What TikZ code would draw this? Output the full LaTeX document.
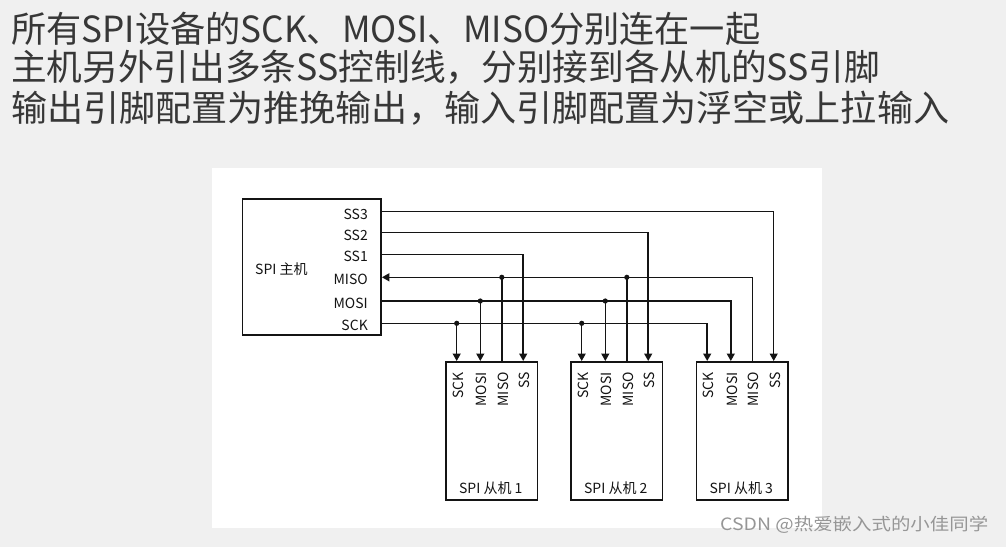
\documentclass[tikz,border=0pt]{standalone}
\usepackage{fontspec}
\usepackage{graphicx}
\setmainfont{Noto Sans CJK SC}
\usetikzlibrary{arrows.meta}
\definecolor{bg}{RGB}{240,240,240}
\definecolor{ink}{RGB}{20,20,20}
\definecolor{wm}{RGB}{150,150,150}
\begin{document}
\begin{tikzpicture}[x=1pt,y=-1pt,
  box/.style={draw=ink, line width=1.6pt, inner sep=0pt},
  wire/.style={draw=ink, line width=1.45pt},
  arr/.style={wire, -{Triangle[width=8pt,length=7.5pt]}},
  pinlbl/.style={font=\fontsize{14}{14}\selectfont, text=ink, inner sep=0pt},
  jdot/.style={circle, fill=ink, inner sep=0pt, minimum size=5.2pt},
  head/.style={font=\fontsize{36}{36}\selectfont, text=ink!85, inner sep=0pt, anchor=west},
]
\useasboundingbox[fill=bg] (0,0) rectangle (1006,547);
\fill[white] (212,168) rectangle (822,528);

% headline
\node[head] (l1) at (11,29) {\resizebox{749pt}{\height}{所有SPI设备的SCK、MOSI、MISO分别连在一起}};
\node[head] (l2) at (11,67.5) {\resizebox{869pt}{\height}{主机另外引出多条SS控制线，分别接到各从机的SS引脚}};
\node[head] (l3) at (11,108) {\resizebox{938pt}{\height}{输出引脚配置为推挽输出，输入引脚配置为浮空或上拉输入}};

% master
\node[box, minimum width=138.6pt, minimum height=135.7pt, anchor=north west] (master) at (241.7,198.3) {};
\node[pinlbl, anchor=west] (mtitle) at (255,269) {SPI 主机};
\foreach \n/\y in {SS3/211.7, SS2/232.7, SS1/254.3, MISO/277.3, MOSI/301, SCK/323.3} {
  \coordinate (m\n) at (master.east |- 0,\y);
  \node[pinlbl, anchor=base east] (ml\n) at (368,\y+7.3) {\n};
}

% slaves
\foreach \i/\x in {1/445, 2/570, 3/695.5} {
  \node[box, minimum width=91.5pt, minimum height=138.3pt, anchor=north west] (s\i) at (\x,361) {};
  \node[pinlbl, anchor=base] (st\i) at (\x+45.75,493.3) {SPI 从机\hspace{3pt}\i};
  \foreach \p/\dx in {SCK/11.7, MOSI/35.3, MISO/56.8, SS/78.2} {
    \coordinate (s\i\p) at (\x+\dx,361);
    \node[pinlbl, rotate=90, anchor=east] (sl\i\p) at (\x+\dx+1.3,372) {\p};
  }
}

% SS lines
\draw[arr] (mSS1) -| (s1SS);
\draw[arr] (mSS2) -| (s2SS);
\draw[arr] (mSS3) -| (s3SS);
% SCK
\draw[arr] (mSCK) -| (s3SCK);
\draw[arr] (s1SCK |- mSCK) -- (s1SCK);
\draw[arr] (s2SCK |- mSCK) -- (s2SCK);
% MOSI
\draw[arr] (mMOSI) -| (s3MOSI);
\draw[arr] (s1MOSI |- mMOSI) -- (s1MOSI);
\draw[arr] (s2MOSI |- mMOSI) -- (s2MOSI);
% MISO
\draw[arr] (s3MISO) |- (mMISO);
\draw[wire] (s1MISO) -- (s1MISO |- mMISO);
\draw[wire] (s2MISO) -- (s2MISO |- mMISO);
% junction dots
\node[jdot] (d1SCK) at (s1SCK |- mSCK) {};
\node[jdot] (d2SCK) at (s2SCK |- mSCK) {};
\node[jdot] (d1MOSI) at (s1MOSI |- mMOSI) {};
\node[jdot] (d2MOSI) at (s2MOSI |- mMOSI) {};
\node[jdot] (d1MISO) at (s1MISO |- mMISO) {};
\node[jdot] (d2MISO) at (s2MISO |- mMISO) {};

% watermark
\node[font=\fontsize{17}{17}\selectfont, text=wm, anchor=west, inner sep=0pt] (wmark) at (720,525) {\resizebox{268pt}{\height}{CSDN @热爱嵌入式的小佳同学}};
\end{tikzpicture}
\end{document}
